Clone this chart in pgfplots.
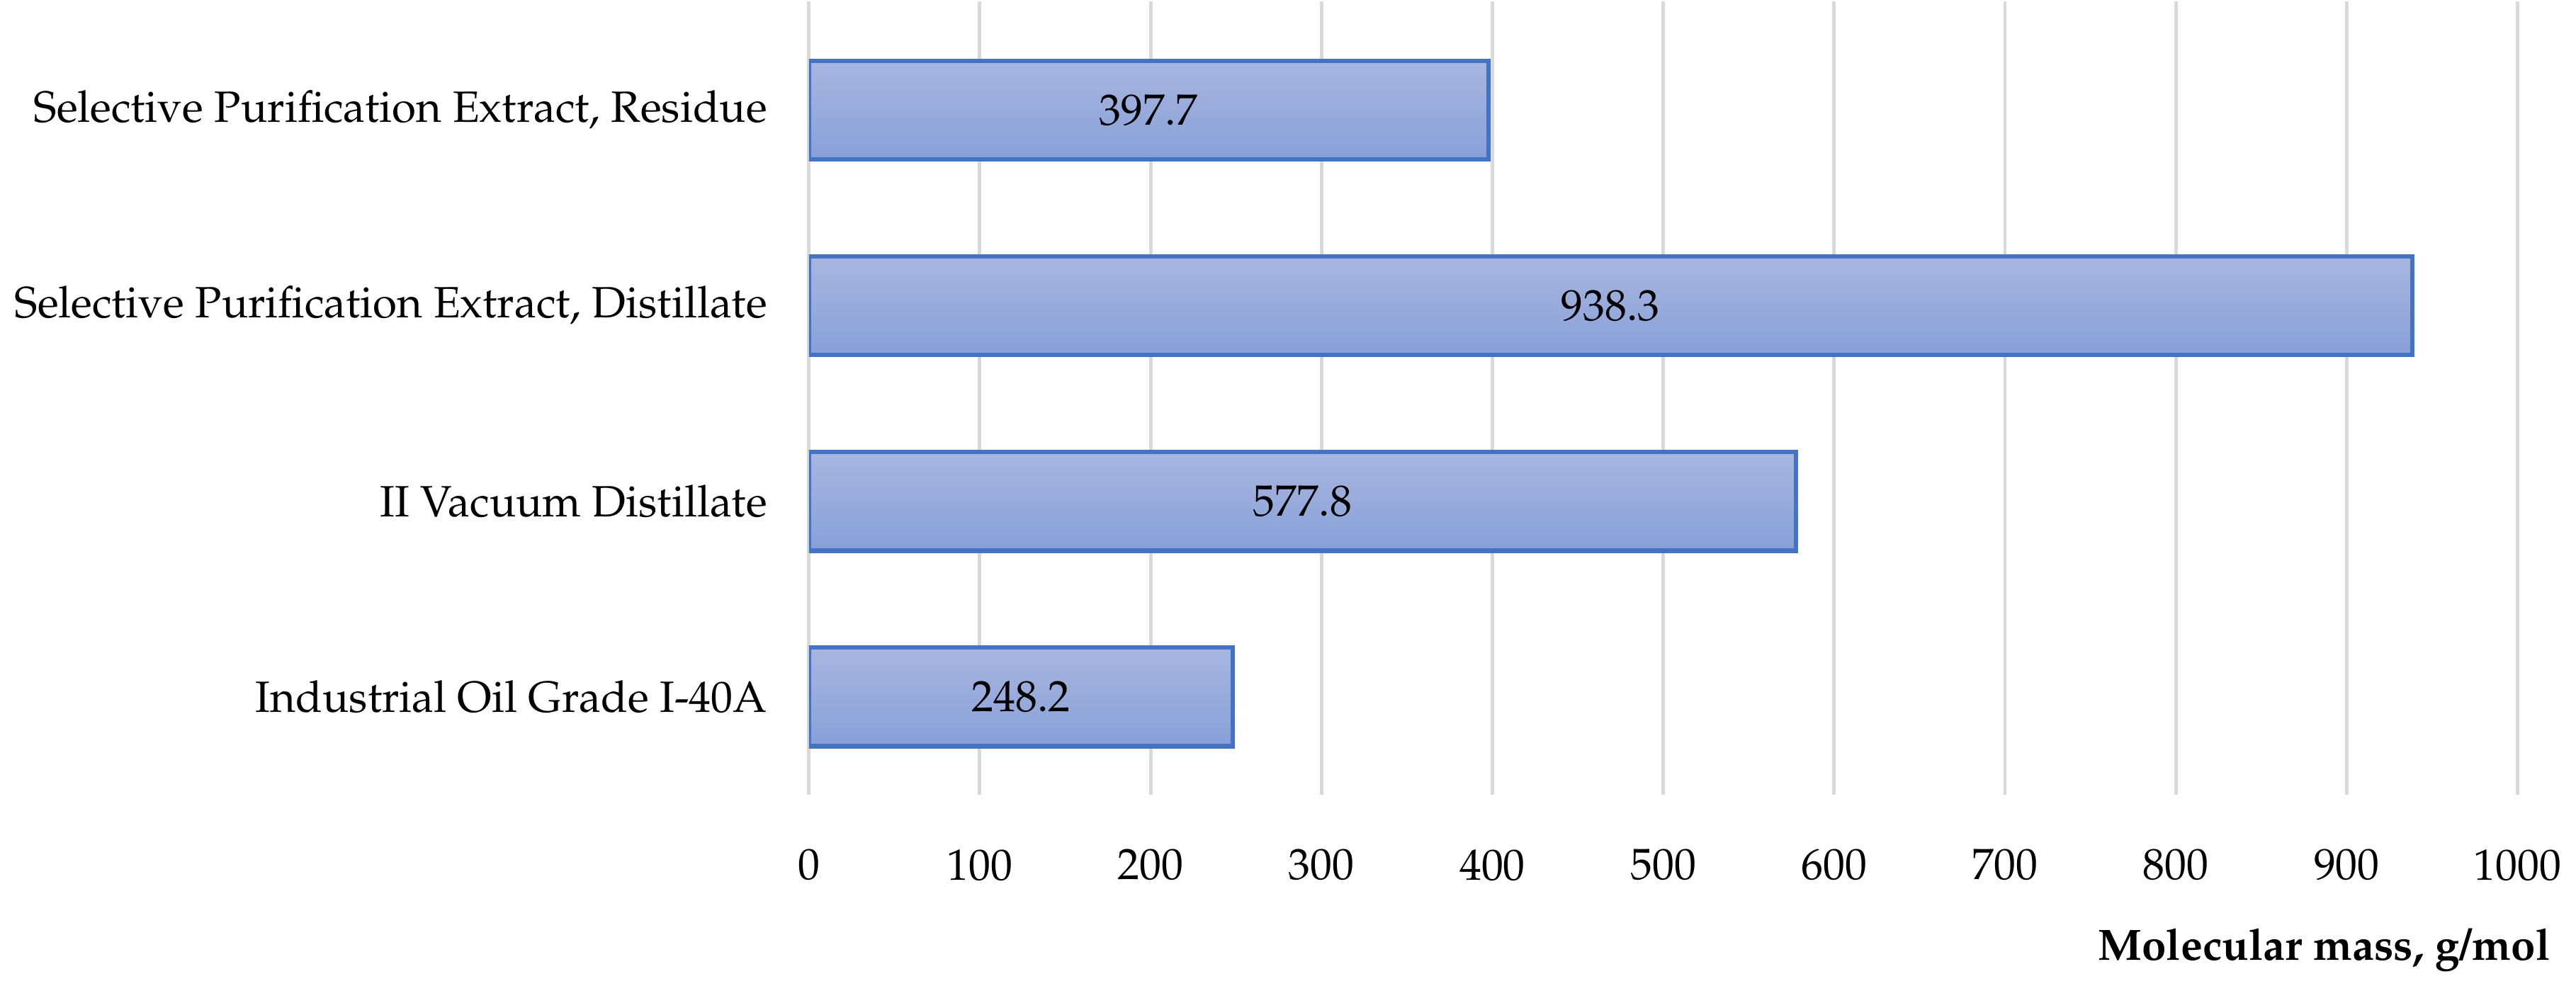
\documentclass[border=0pt]{standalone}
\usepackage[T1]{fontenc}
\usepackage{mathpazo}
\usepackage{pgfplots}
\pgfplotsset{compat=1.18}
\definecolor{barline}{HTML}{4472C4}
\definecolor{bartop}{HTML}{A8B6E0}
\definecolor{barbot}{HTML}{88A0D8}
\definecolor{gridgray}{HTML}{D9D9D9}
\pgfplotsset{
  mybar/.style={xbar, bar width=0.505, bar shift=0pt, draw=barline, line width=1pt,
    top color=bartop, bottom color=barbot,
    visualization depends on={rawx \as \rx},
    nodes near coords,
    nodes near coords style={anchor=center, font=\fontsize{10}{12}\selectfont, black,
      xshift={-0.195*\rx pt},
      /pgf/number format/.cd, fixed, precision=1, fixed zerofill}},
}
\begin{document}
\begin{tikzpicture}
  \begin{axis}[
      scale only axis,
      width=390pt, height=181pt,
      xmin=0, xmax=1000,
      ymin=-0.5, ymax=3.555,
      xtick={0,100,...,1000},
      ytick={0,1,2,3},
      yticklabels={Industrial Oil Grade I-40A, II Vacuum Distillate,
        {Selective Purification Extract, Distillate},
        {Selective Purification Extract, Residue}},
      axis line style={draw=none},
      major tick length=0pt,
      xmajorgrids,
      grid style={gridgray, line width=0.8pt},
      xticklabel style={yshift=-9pt},
      yticklabel style={xshift=-6pt},
      /pgf/number format/1000 sep={},
      xlabel={\textbf{Molecular mass, g/mol}},
      xlabel style={at={(rel axis cs:1,0)}, anchor=north east, xshift=11pt, yshift=-27pt},
      tick label style={font=\fontsize{10}{12}\selectfont},
      label style={font=\fontsize{10}{12}\selectfont},
    ]
    \addplot[mybar] coordinates {(248.2,0)};
    \addplot[mybar] coordinates {(577.8,1)};
    \addplot[mybar] coordinates {(938.3,2)};
    \addplot[mybar] coordinates {(397.7,3)};
  \end{axis}
\end{tikzpicture}
\end{document}
